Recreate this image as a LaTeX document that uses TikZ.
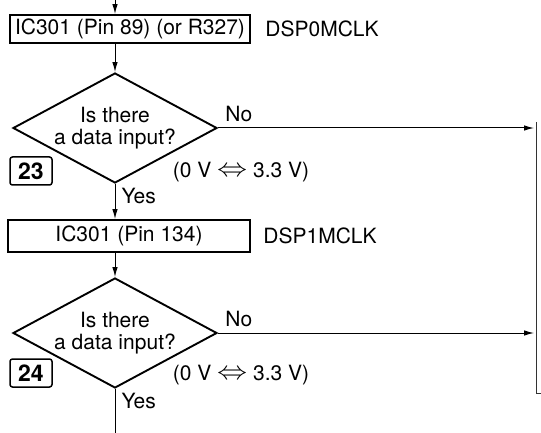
\documentclass[tikz,border=0pt]{standalone}
\usepackage{fontspec}
\setmainfont{TeX Gyre Heros}
\usetikzlibrary{shapes.geometric,arrows.meta}
\newcommand\swing{\raisebox{0.5pt}{\scalebox{1.45}[1.25]{$\Leftrightarrow$}}}

\begin{document}
\begin{tikzpicture}[x=1pt,y=-1pt,
  font=\fontsize{21}{22}\selectfont,
  flowbox/.style={draw,line width=1.9pt,minimum height=30pt,inner sep=0pt},
  query/.style={diamond,draw,line width=1.9pt,aspect=1.85,minimum width=204pt,minimum height=110pt,inner sep=0pt,align=center},
  stepnum/.style={draw,line width=1.5pt,rounded corners=2.5pt,minimum width=42pt,minimum height=28pt,inner sep=0pt,font=\fontsize{23}{23}\selectfont\bfseries},
  flow/.style={line width=1pt,-{Latex[length=10pt,width=5.5pt]}},
  wire/.style={line width=1pt}]
\useasboundingbox (0,0) rectangle (541,433);
% first check
\node[flowbox,minimum width=240pt,minimum height=28pt] (box1) at (130,29) {IC301 (Pin 89) (or R327)};
\node[anchor=west] (sig1) at ([xshift=11pt]box1.east) {DSP0MCLK};
\node[query] (dia1) at (115,128) {Is there\\a data input?};
\node[stepnum] (num1) at (31,171) {23};
\node (lvl1) at (241,172) {(0 V \swing{} 3.3 V)};
\node[anchor=south west] (no1) at ([xshift=4pt,yshift=3pt]dia1.east) {No};
\node[anchor=north west] (yes1) at ([xshift=3pt,yshift=-1pt]dia1.south) {Yes};
% second check
\node[flowbox,minimum width=242pt,minimum height=32pt] (box2) at (129,236) {IC301 (Pin 134)};
\node[anchor=west] (sig2) at ([xshift=9pt]box2.east) {DSP1MCLK};
\node[query] (dia2) at (115,333) {Is there\\a data input?};
\node[stepnum] (num2) at (31,373) {24};
\node (lvl2) at (241,375) {(0 V \swing{} 3.3 V)};
\node[anchor=south west] (no2) at ([xshift=4pt,yshift=3pt]dia2.east) {No};
\node[anchor=north west] (yes2) at ([xshift=3pt,yshift=-1pt]dia2.south) {Yes};
% connectors
\coordinate (entry) at (115,0);
\coordinate (exit) at (115,433);
\coordinate (bustop) at (536,122);
\coordinate (busbot) at (536,393);
\coordinate (busend) at (541,393);
\draw[flow] (entry) -- (entry |- box1.north);
\draw[flow] (dia1.north |- box1.south) -- (dia1.north);
\draw[flow] (dia1.south) -- (dia1.south |- box2.north);
\draw[flow] (dia2.north |- box2.south) -- (dia2.north);
\draw[wire] (dia2.south) -- (exit);
\draw[flow,shorten >=2pt] (dia1.east) -- (dia1.east -| bustop);
\draw[flow,shorten >=2pt] (dia2.east) -- (dia2.east -| bustop);
\draw[wire,black!80] (bustop) -- (busbot) -- (busend);
\end{tikzpicture}
\end{document}
